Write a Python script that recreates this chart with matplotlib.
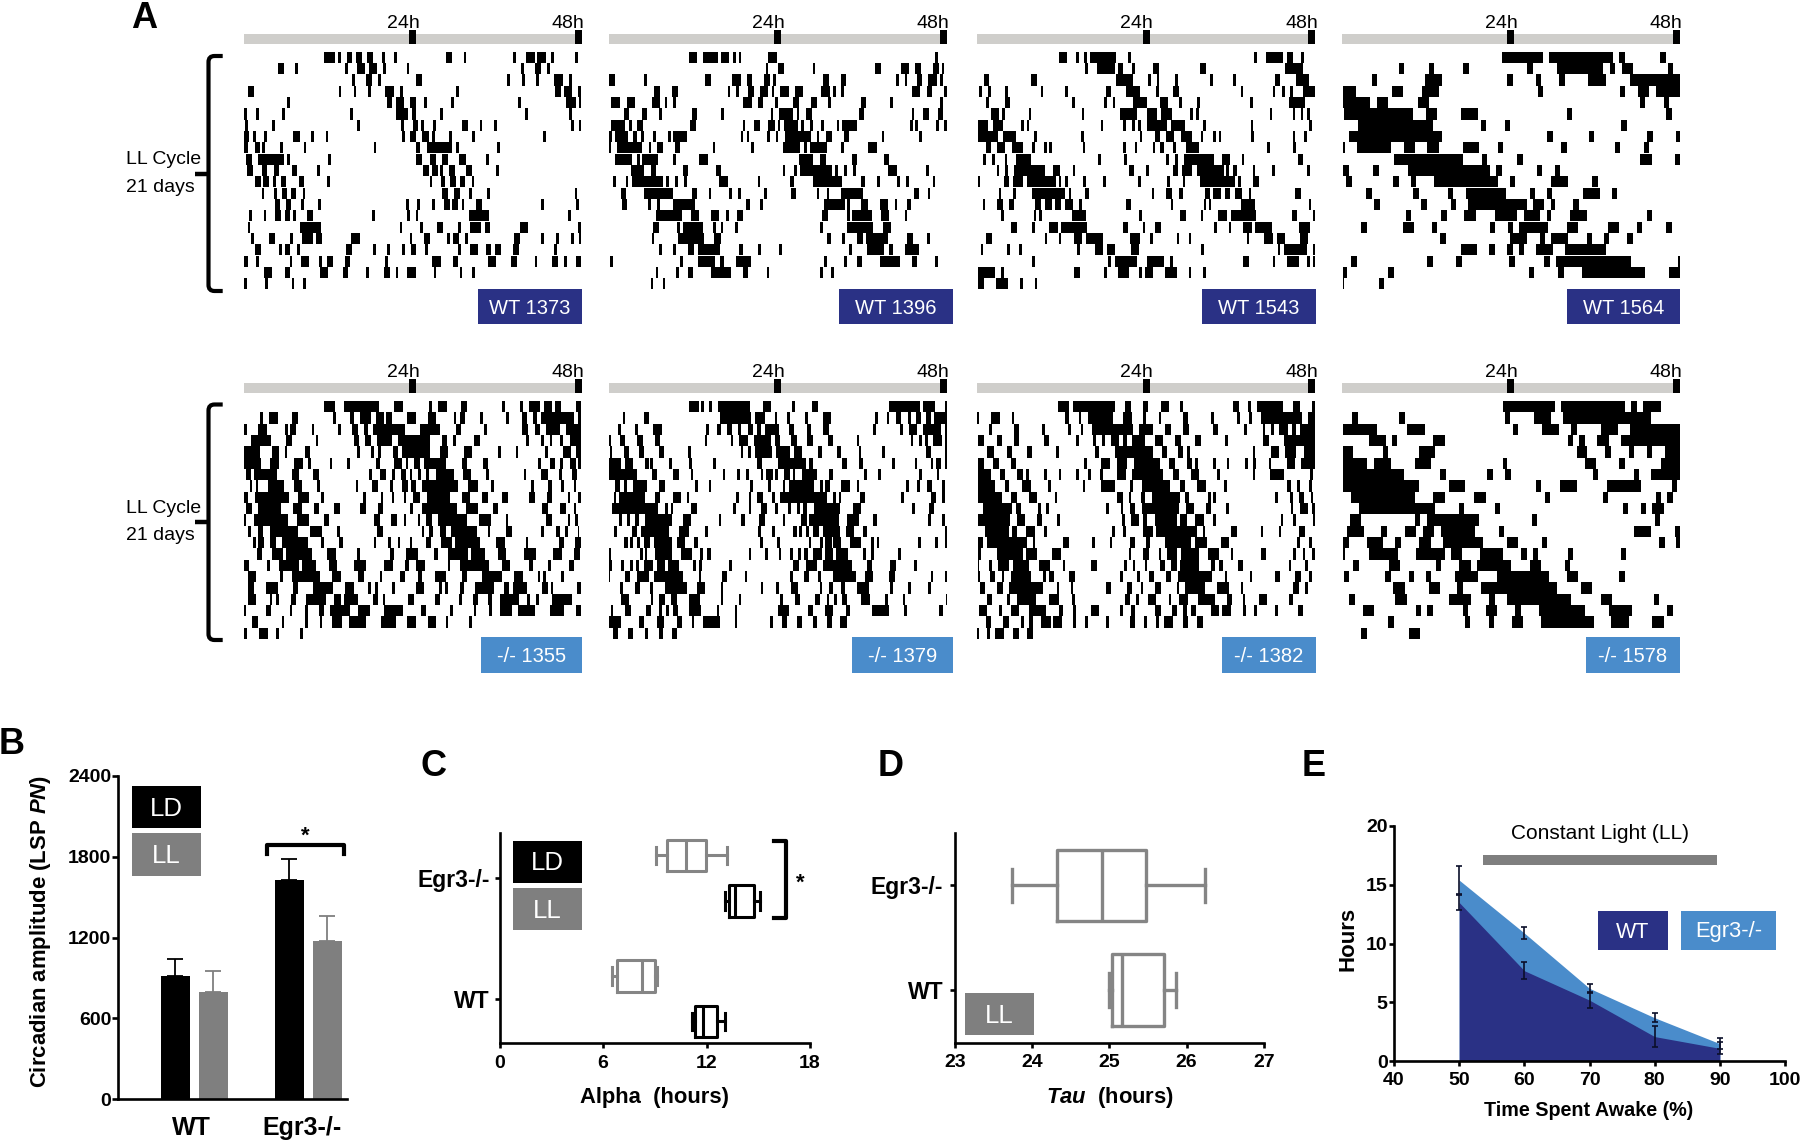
import matplotlib
matplotlib.use("Agg")
import matplotlib.pyplot as plt
from matplotlib.patches import PathPatch, Rectangle
from matplotlib.path import Path

plt.rcParams['font.family'] = ['Liberation Sans', 'DejaVu Sans']
plt.rcParams['mathtext.fontset'] = 'custom'
plt.rcParams['mathtext.bfit'] = 'Liberation Sans:italic:bold'
plt.rcParams['mathtext.bf'] = 'Liberation Sans:bold'

W, H = 1800, 1140
DARK_BLUE = '#2a3185'
LIGHT_BLUE = '#4a8ccb'
GREY = '#7f7f7f'

# Actograms: activity bouts per day row, flat start,end pairs
SCAN_PER_HOUR = 21.1

WT_1373 = [
    [612,645,655,663,682,698,708,726,742,760,787,795,822,831,980,998,1032,1040,1180,1190,1218,1245,1252,1278,1295,1303,1367,1376],
    [474,492,527,536,676,684,712,737,748,772,790,799,861,869,1205,1212,1247,1265,1283,1291],
    [697,706,740,757,775,785,890,908,1162,1171,1207,1215,1250,1258,1303,1330,1348,1357],
    [384,403,657,665,702,710,745,753,797,824,840,850,1008,1017,1306,1323,1333,1358,1376,1385],
    [502,512,802,818,828,853,870,888,914,922,994,1002,1196,1205,1338,1370,1378,1385],
    [373,382,409,418,488,497,691,699,830,865,876,888,962,970,1217,1225,1348,1357],
    [375,385,457,466,712,720,845,853,880,895,904,912,939,948,1026,1045,1080,1088,1124,1133,1353,1362,1378,1385],
    [373,388,400,408,433,441,521,540,575,583,618,626,846,855,872,890,908,928,936,945,988,997,1058,1066,1269,1278],
    [373,385,405,420,428,437,481,490,552,560,762,770,888,902,923,998,1008,1017,1132,1140],
    [380,397,415,493,503,512,625,634,888,906,932,950,968,986,1018,1038,1100,1108],
    [383,400,426,442,462,478,516,532,593,602,910,928,936,955,962,970,988,1006,1040,1058,1130,1139],
    [405,423,431,447,460,468,483,499,537,553,622,631,930,938,965,975,992,1010,1020,1036,1056,1062],
    [426,434,462,472,487,503,513,530,550,557,968,986,1004,1020,1048,1056,1102,1110,1366,1373],
    [466,482,500,514,545,552,596,604,860,868,893,902,938,946,972,992,998,1016,1026,1034,1068,1086,1264,1272,1370,1378],
    [389,397,432,440,467,485,495,510,520,530,563,580,757,766,862,870,888,896,1047,1108,1345,1353],
    [385,392,541,604,840,848,901,910,953,970,1015,1023,1052,1085,1095,1112,1200,1225,1376,1385],
    [395,404,447,466,510,519,546,580,590,606,695,720,870,878,914,930,983,992,1000,1018,1037,1044,1184,1202,1265,1273,1308,1317,1353,1362,1378,1385],
    [406,424,477,486,495,512,532,540,680,696,759,768,802,810,848,856,873,890,917,926,1014,1024,1050,1075,1100,1115,1125,1145,1180,1197,1302,1311],
    [373,384,410,418,510,518,543,568,597,606,622,640,675,690,797,806,938,965,1000,1016,1105,1130,1175,1193,1245,1253,1297,1314,1333,1341,1368,1385],
    [433,458,495,510,600,624,670,686,739,747,792,810,828,836,862,888,942,950,1020,1028,1058,1066],
    [373,382,437,445,516,524,550,558],
]
WT_1396 = [
    [266,292,310,355,363,388,400,408,416,424,505,530,1005,1013],
    [497,505,533,551,638,646,824,842,903,928,946,962,1000,1017,1025,1033],
    [27,46,133,142,316,334,396,422,441,457,492,510,520,527,670,686,722,739,888,896,914,922,950,967,985,1010,1020,1028],
    [163,180,216,233,383,391,408,418,445,461,479,505,515,523,541,567,585,610,664,690,700,708,724,732,935,960,980,996,1032,1040],
    [34,60,80,105,156,180,194,202,218,227,430,456,473,490,525,533,580,597,632,650,685,693,782,798,870,878,1020,1028],
    [72,88,125,142,178,186,276,292,364,372,512,520,538,580,590,597,618,635,778,792,935,943,968,986,1013,1030],
    [34,75,88,96,112,128,270,287,428,436,463,480,505,524,534,541,553,595,604,612,630,640,664,672,710,718,727,770,930,938,945,953,1008,1016,1032,1040],
    [28,36,46,85,98,112,124,132,160,168,204,212,220,262,422,430,440,448,502,510,528,535,556,632,650,658,678,695,732,748,845,853,958,966],
    [28,32,50,125,146,154,172,190,225,240,338,346,452,461,548,600,612,620,630,680,723,731,803,830],
    [44,95,110,120,125,175,220,228,298,324,597,640,660,678,755,772,852,868],
    [92,133,152,168,250,264,347,362,548,556,582,590,600,695,705,714,732,740,758,768,865,890,978,986],
    [40,49,77,85,95,190,198,206,226,233,252,260,358,384,473,481,570,583,640,726,782,795,832,840,892,900,918,926,998,1006],
    [62,78,133,220,275,291,326,334,388,396,414,422,492,500,573,588,650,658,680,688,724,790,942,958,983,991],
    [66,82,145,153,172,180,218,285,437,451,480,488,672,735,742,750,782,804,840,865,884,892,920,934],
    [168,245,272,297,333,358,378,386,412,430,665,683,740,750,755,816,844,868,914,922],
    [160,178,232,240,250,310,340,348,362,370,404,414,660,668,742,820,848,872],
    [155,163,235,312,342,364,680,692,727,735,772,788,798,865,920,938,982,990],
    [177,186,220,228,265,282,294,360,416,430,475,483,537,546,748,756,802,852,866,880,915,958],
    [30,40,240,248,294,345,360,372,408,452,672,680,733,742,770,786,840,900,935,952,1005,1014],
    [167,175,228,236,264,280,334,394,430,445,500,508,660,668,692,702],
    [152,160,188,196],
]
WT_1543 = [
    [296,320,348,356,373,382,390,468,505,514,882,890,918,970,982,998,1023,1032],
    [376,384,410,464,474,490,516,524,580,596,720,737,976,1028],
    [72,88,214,230,468,518,565,574,590,598,645,653,750,758,820,828,945,960,1008,1048],
    [56,66,84,92,136,144,242,250,315,323,438,454,498,540,588,596,640,656,842,850,938,946,966,974,990,998,1030,1065],
    [78,86,134,149,336,344,432,440,458,466,520,562,600,625,658,666,712,720,870,878,988,1036],
    [92,118,126,134,206,214,365,373,480,530,560,592,604,635,690,698,708,716,930,936,998,1006,1024,1030,1042,1050],
    [54,84,98,128,184,192,200,208,422,430,490,498,516,524,534,543,562,620,634,675,730,738,872,880,1046,1055],
    [54,113,128,167,222,230,364,372,540,547,585,600,618,642,664,695,722,730,760,768,776,784,874,882,998,1006,1033,1040],
    [78,92,112,135,156,190,216,224,252,260,268,276,368,376,490,498,524,532,578,586,600,612,640,648,678,716,922,930,1000,1008],
    [70,78,96,104,134,142,168,212,414,422,492,500,618,626,645,653,672,762,785,810,845,853,1013,1030,1065,1068],
    [110,118,136,144,162,256,278,300,338,346,506,522,558,566,638,653,665,697,710,792,798,806,820,830,878,885,936,944,1042,1050],
    [54,60,132,148,158,190,200,288,296,304,316,324,370,378,430,438,535,543,622,630,668,676,720,825,834,842,880,896],
    [116,124,160,168,216,316,326,334,374,388,576,582,618,635,656,668,734,750,760,784,796,810,824,846,868,874,1006,1022],
    [68,76,110,128,146,162,226,242,254,276,286,302,316,338,358,366,498,514,632,638,732,738,748,754,844,885,1046,1054],
    [124,132,222,228,238,245,336,378,538,546,660,678,722,728,774,800,812,888,996,1012,1058,1066],
    [152,170,216,224,268,294,302,380,490,505,548,556,584,602,762,770,806,814,850,875,884,936,1018,1050],
    [78,96,254,262,296,304,342,366,378,430,510,540,570,578,650,658,686,694,860,868,912,938,950,974,1020,1044],
    [62,70,142,150,178,186,352,360,406,430,442,466,512,536,724,732,954,960,972,1040,1060,1068],
    [216,224,445,452,464,530,560,612,630,638,850,868,938,946,982,1018,1042,1050,1060,1068],
    [54,104,122,132,342,360,432,440,474,508,536,546,554,578,616,652,686,694,728,738],
    [54,72,108,144,180,188,224,232],
]
WT_1564 = [
    [545,668,686,880,898,914,1020,1038],
    [236,252,326,342,428,446,622,640,712,850,870,886,905,940,1045,1060],
    [156,172,315,366,560,578,647,664,718,734,805,858,930,1080],
    [68,108,215,250,305,356,654,670,900,916,955,986,1008,1080],
    [68,150,170,204,295,328,960,976,1032,1048],
    [72,280,318,352,422,474,740,756,1038,1055],
    [115,340,482,498,554,570,904,920],
    [88,366,682,698,806,822,982,998,1068,1080],
    [68,75,110,213,252,284,322,356,428,478,534,548,724,742,884,900,972,986],
    [222,430,486,502,592,610,960,996,1066,1080],
    [68,88,160,176,265,510,528,545,650,666,704,720],
    [78,96,220,236,272,288,342,534,570,586,694,744,816,833],
    [138,155,280,296,384,400,438,558,630,646,682,696,788,840,876,892],
    [162,180,303,320,392,408,444,620,640,672,692,706,760,776],
    [258,274,364,380,432,468,524,590,612,660,680,694,750,800,980,996],
    [124,142,248,282,335,352,510,526,564,580,598,684,740,774,864,896,952,966,1038,1055],
    [360,378,570,620,660,674,694,744,800,816,852,868,922,938],
    [422,472,506,524,560,578,596,612,648,698,736,858],
    [92,110,322,338,408,426,566,584,672,690,708,934,1075,1080],
    [68,80,205,222,628,642,714,732,786,976,1048,1080],
    [68,71,176,192],
]
KO_1355 = [
    [612,646,673,778,822,850,928,937,955,982,1024,1042,1148,1157,1202,1210,1228,1262,1272,1296,1306,1324,1368,1385],
    [422,430,447,474,518,535,640,650,692,704,720,755,768,792,798,818,862,888,925,950,1002,1010,1020,1036,1082,1090,1160,1168,1206,1222,1240,1252,1265,1362,1376,1385],
    [373,382,416,442,496,506,510,530,576,584,655,663,698,716,733,745,760,856,900,960,1008,1024,1094,1102,1208,1224,1245,1262,1280,1322,1340,1385],
    [393,455,500,516,588,596,702,718,737,753,772,816,834,930,966,982,1000,1008,1062,1080,1220,1228,1265,1273,1290,1298,1322,1330,1352,1385],
    [373,420,458,478,495,503,556,572,712,720,755,764,775,784,820,835,846,932,962,986,1032,1056,1136,1144,1188,1196,1276,1284,1330,1354,1370,1385],
    [373,425,452,478,522,550,565,575,630,638,682,690,770,780,824,848,858,866,884,902,912,980,1026,1042,1090,1104,1256,1265,1290,1306,1322,1330,1350,1368,1376,1385],
    [378,394,404,472,518,538,580,598,748,756,782,800,818,826,844,860,870,878,895,905,920,928,950,1002,1030,1054,1100,1108,1212,1220,1265,1284,1318,1326,1358,1372],
    [390,398,408,416,445,494,522,548,592,602,708,716,758,776,812,820,848,864,874,890,908,1014,1044,1074,1114,1122,1234,1242,1286,1296,1324,1332,1362,1370],
    [373,384,405,508,535,568,605,613,730,738,783,791,816,824,852,860,880,902,922,990,1026,1052,1088,1104,1148,1166,1228,1246,1282,1298,1344,1352,1376,1385],
    [380,396,414,484,520,548,582,598,642,662,722,740,775,790,870,880,908,1012,1040,1074,1120,1136,1268,1284,1320,1338,1362,1370],
    [373,378,402,506,532,568,612,628,762,780,814,832,852,860,894,902,920,936,955,1042,1078,1114,1158,1166,1280,1296,1344,1352,1366,1374],
    [385,395,414,430,450,534,572,606,652,660,772,790,906,914,928,940,960,980,995,1072,1104,1110,1160,1178,1265,1274,1310,1322,1336,1346,1374,1378],
    [400,410,416,434,452,468,488,566,604,612,658,670,762,770,806,814,834,842,870,878,920,934,964,998,1006,1082,1128,1156,1218,1226,1318,1334,1366,1385],
    [412,428,456,490,500,578,622,648,712,720,810,824,860,894,944,954,984,1046,1054,1096,1134,1160,1212,1248,1300,1326,1364,1380],
    [373,388,442,450,478,538,548,590,628,652,704,740,792,820,856,868,890,916,984,992,1022,1108,1146,1170,1228,1240,1286,1294,1348,1364],
    [384,410,480,490,516,600,638,664,716,734,780,788,840,856,894,908,946,980,1026,1042,1088,1146,1184,1210,1254,1262,1270,1278,1325,1333],
    [386,404,438,474,520,536,580,640,676,702,746,754,766,774,818,826,888,914,958,968,976,984,1022,1032,1066,1124,1152,1168,1180,1222,1266,1284,1294,1300,1372,1385],
    [384,408,450,458,470,478,514,530,558,618,644,664,672,714,760,776,790,796,866,882,946,960,1018,1026,1060,1074,1106,1118,1140,1198,1222,1232,1250,1258,1298,1358],
    [373,378,438,454,510,518,556,566,598,612,632,690,716,752,792,850,904,920,992,1000,1062,1070,1108,1116,1142,1176,1194,1246,1290,1334,1370,1385],
    [396,414,486,494,556,564,600,608,636,668,688,738,784,828,862,888,926,950,978,986,1048,1056],
    [373,382,418,444,470,478,540,550],
]
KO_1379 = [
    [268,296,302,311,328,336,355,450,488,513,575,584,637,654,866,960,970,1006,1034,1040],
    [68,76,132,148,360,453,465,496,524,532,562,570,615,623,668,694,825,834,860,868,888,904,925,934,948,964,978,994,1002,1040],
    [53,62,106,114,160,186,318,326,352,362,380,396,415,423,445,460,470,484,495,538,568,582,622,634,670,686,820,828,900,908,928,952,970,1022,1034,1040],
    [27,33,60,74,112,128,165,180,314,322,392,400,418,444,462,512,525,540,572,590,622,638,684,700,770,778,932,940,958,966,976,984,1000,1026,1034,1040],
    [30,36,72,88,116,132,176,192,264,272,422,430,444,452,465,516,528,570,582,606,655,665,712,722,776,784,846,854,978,994,1034,1040],
    [27,64,75,100,136,146,150,160,207,215,268,276,340,348,470,486,534,618,628,640,726,742,778,788,876,884,944,952,992,1000,1008,1024,1034,1040],
    [27,112,156,172,220,236,272,280,368,376,412,420,438,446,482,490,498,520,526,534,552,570,578,586,606,650,686,698,792,800,834,842,958,966,1012,1018],
    [46,60,72,80,100,142,178,194,286,294,326,334,450,458,504,512,548,556,566,642,660,668,675,690,724,750,770,778,918,926,952,960,980,996,1026,1034],
    [42,48,58,135,165,180,218,243,260,268,408,416,446,454,472,488,516,524,541,680,700,708,716,722,780,796,904,912,992,1008,1026,1034],
    [36,174,196,204,214,220,274,290,400,408,446,454,482,500,526,534,564,572,592,600,610,622,642,720,758,782,936,944,986,1002],
    [58,66,82,90,104,118,136,215,250,274,356,364,424,434,478,496,548,556,604,620,628,716,742,776,820,830,984,992,1026,1034],
    [42,50,96,112,122,208,238,268,316,324,474,482,516,524,578,592,598,606,618,626,640,656,668,720,738,762,790,800,1034,1040],
    [72,84,90,100,112,120,132,150,162,215,232,256,282,294,480,488,532,540,626,634,660,668,676,696,700,724,750,784,814,822,830,838,954,962,1006,1014,1036,1040],
    [27,33,120,128,134,142,165,215,244,276,300,308,322,332,446,454,496,504,536,544,570,578,594,602,612,624,640,665,676,700,708,745,790,798,814,822,894,902],
    [27,35,62,72,90,98,108,116,132,158,170,194,204,236,280,288,298,305,388,396,580,596,618,650,668,756,800,816,870,888,942,950],
    [27,30,74,90,110,146,162,250,296,304,365,381,434,442,570,578,612,626,654,662,700,768,796,820,868,884,992,1000,1034,1040],
    [60,70,104,120,150,158,194,262,292,314,362,370,484,490,528,536,572,594,660,666,686,698,722,736,772,806,870,878,924,932,984,992],
    [64,88,152,160,178,194,214,230,266,300,362,370,416,422,540,548,584,600,646,660,680,688,702,712,726,740,784,810,856,864,908,916,1038,1042],
    [32,40,76,92,138,154,176,186,198,206,218,234,268,304,350,358,404,412,534,568,624,640,674,700,738,750,816,866,912,920,1018,1028],
    [27,62,116,132,170,192,230,246,275,283,308,360,404,412,510,518,546,562,590,606,640,650,680,696,720,740],
    [38,54,84,100,136,144,178,188,216,232],
]
KO_1382 = [
    [294,328,338,466,496,512,548,564,602,626,660,670,820,836,864,872,890,970,998,1020,1056,1064],
    [52,57,94,120,156,162,314,328,356,364,384,460,490,516,550,558,596,604,668,684,754,762,832,840,868,876,904,1026,1044,1064],
    [88,96,162,176,246,254,324,332,362,370,396,518,538,580,616,634,670,686,758,774,852,860,908,916,934,942,958,984,996,1008,1020,1064],
    [54,72,110,126,162,178,252,268,348,356,400,408,426,434,452,476,488,502,516,556,584,608,646,662,706,724,796,804,910,928,972,1064],
    [80,102,140,156,200,216,288,296,406,418,466,578,606,620,654,668,680,690,878,886,932,956,976,1008,1032,1064],
    [54,72,100,116,152,168,372,380,424,450,470,502,522,600,628,644,680,696,706,714,760,768,800,808,856,864,880,888,926,932,980,1004,1024,1064],
    [54,92,120,136,172,190,198,206,252,260,296,304,348,356,384,392,420,428,472,498,516,610,640,656,692,716,770,780,878,886,930,972,1050,1058],
    [54,104,134,148,186,212,264,272,368,376,422,466,510,518,546,630,660,676,712,738,792,800,980,994,1012,1020,1048,1056],
    [54,126,154,170,206,232,284,292,470,488,506,514,542,556,576,660,674,688,744,752,760,768,946,954,990,998,1016,1032,1052,1060],
    [70,156,168,184,234,242,258,266,438,446,482,490,510,526,546,658,678,702,738,754,798,806,992,1000,1020,1044,1056,1064],
    [54,150,170,196,230,246,292,300,486,494,514,538,550,562,584,652,660,680,706,732,760,768,962,970,1000,1008,1058,1064],
    [76,146,156,170,198,224,252,260,456,464,490,498,550,578,588,710,728,734,814,832,902,910,956,964,1016,1034],
    [54,70,80,202,218,226,308,326,396,404,450,456,510,526,558,570,616,694,706,740,782,808,1012,1020,1048,1056],
    [54,62,110,188,198,232,276,302,506,514,550,566,596,604,620,652,664,716,744,778,812,820,902,918,1000,1008,1028,1036,1056,1064],
    [54,58,88,96,114,148,158,208,238,270,308,316,394,412,492,500,518,526,554,562,600,614,634,650,660,718,752,764,776,790,834,850,986,992,1036,1044],
    [54,60,90,106,126,132,154,212,250,258,266,282,328,344,480,488,532,540,566,582,618,634,654,756,794,802,870,876,944,960,1006,1022,1048,1056],
    [60,76,112,128,148,250,290,298,332,340,438,454,500,516,542,550,586,602,650,658,676,734,770,806,842,850,1000,1016,1036,1044],
    [80,96,142,150,170,228,266,298,336,344,494,510,528,536,564,588,626,634,658,684,714,764,800,816,848,856,898,922,986,1000],
    [56,80,118,126,154,178,208,258,296,310,340,348,392,416,480,488,512,526,586,602,636,652,668,682,694,708,752,778,786,812,848,858,882,890,945,953,1014,1030],
    [78,94,130,146,182,192,208,218,244,272,280,306,340,348,376,384,438,446,510,524,552,560,588,598,612,640,668,684,712,728],
    [52,56,80,90,106,132,160,176,202,220],
]
KO_1578 = [
    [548,704,722,914,934,950,970,1022],
    [96,114,238,254,556,570,642,694,730,992],
    [70,172,262,314,578,594,666,718,754,770,844,894,930,1080],
    [146,198,216,232,340,374,744,760,778,796,830,866,902,1080],
    [70,100,188,204,296,346,770,802,856,872,926,942,980,996,1034,1080],
    [70,142,162,212,284,334,548,562,794,828,898,914,1022,1080],
    [70,252,360,378,502,518,554,572,818,834,942,958,994,1080],
    [70,298,386,436,648,664,720,770,860,964,1055,1070],
    [94,286,340,374,462,498,674,690,848,864,1008,1024,1042,1058],
    [118,346,418,432,524,540,908,924,962,978,996,1032],
    [90,124,284,300,320,476,636,652,1004,1020],
    [80,132,184,200,254,288,308,342,362,466,536,552,942,992,1064,1080],
    [70,86,140,190,226,244,298,332,368,490,560,594,666,682,1016,1034,1068,1080],
    [68,75,146,234,288,374,392,426,480,550,602,620,638,654,744,760,902,918],
    [100,118,206,240,348,362,418,452,470,574,630,662,734,750],
    [72,88,194,212,266,282,318,334,406,474,530,686,740,774,898,914],
    [220,254,326,360,412,428,484,710,782,816],
    [88,104,226,260,386,454,508,524,562,752,842,876,1002,1018],
    [130,162,288,304,322,338,428,444,498,532,586,602,656,796,868,936,1042,1060],
    [205,222,434,450,506,522,576,610,662,822,874,926,996,1032],
    [124,142,266,300],
]

TOP_ROWS = [WT_1373, WT_1396, WT_1543, WT_1564]
BOTTOM_ROWS = [KO_1355, KO_1379, KO_1382, KO_1578]
SCAN_ORIGIN = [373, 27, 52, 66]
TOP_NAMES = ['WT 1373', 'WT 1396', 'WT 1543', 'WT 1564']
BOTTOM_NAMES = ['-/- 1355', '-/- 1379', '-/- 1382', '-/- 1578']

# B: circadian amplitude
B_GROUPS = ['WT', 'Egr3-/-']
B_LD = [914, 1629]
B_LD_TOP = [1040, 1780]
B_LL = [798, 1174]
B_LL_TOP = [954, 1359]

# C: alpha, box stats as low, q1, median, q3, high
C_EGR_LL = [9.07, 9.69, 10.81, 11.95, 13.19]
C_EGR_LD = [13.08, 13.31, 13.66, 14.76, 15.10]
C_WT_LL = [6.52, 6.83, 8.26, 9.03, 9.11]
C_WT_LD = [11.18, 11.31, 11.78, 12.59, 13.06]

# D: tau
D_EGR = [23.74, 24.32, 24.91, 25.48, 26.24]
D_WT = [25.00, 25.03, 25.16, 25.71, 25.87]

# E: hours vs time spent awake
E_X = [50, 60, 70, 80, 90]
E_EGR = [15.4, 10.9, 6.2, 3.7, 1.5]
E_EGR_ERR = [1.2, 0.5, 0.4, 0.4, 0.45]
E_WT = [13.5, 7.7, 5.2, 2.1, 1.1]
E_WT_ERR = [0.6, 0.7, 0.7, 0.9, 0.5]


def add_ax(left, top, right, bottom):
    return fig.add_axes([left / W, 1 - bottom / H, (right - left) / W, (bottom - top) / H])


def box_label(x0, y0, x1, y1, color, text, size):
    over.add_patch(Rectangle((x0, y0), x1 - x0, y1 - y0, color=color, lw=0))
    over.text((x0 + x1) / 2, (y0 + y1) / 2 + 1.5, text, color='white', fontsize=size, ha='center', va='center')


def brace(x_left, x_mid, x_tip, y0, y1, y_mid):
    r = 6
    verts = [(x_left, y0), (x_mid + r, y0), (x_mid, y0), (x_mid, y0 + r), (x_mid, y1 - r), (x_mid, y1), (x_mid + r, y1), (x_left, y1)]
    codes = [Path.MOVETO, Path.LINETO, Path.CURVE3, Path.CURVE3, Path.LINETO, Path.CURVE3, Path.CURVE3, Path.LINETO]
    over.add_patch(PathPatch(Path(verts, codes), fc='none', ec='black', lw=3))
    over.plot([x_tip, x_mid], [y_mid, y_mid], color='black', lw=3.2, solid_capstyle='butt')


def actogram(left, row0_y, rows, origin):
    row_h = 11.33
    ax = add_ax(left, row0_y - 2.6 * row_h, left + 337.7, row0_y + 20.5 * row_h)
    for i, row in enumerate(rows):
        spans = []
        for start, end in zip(row[::2], row[1::2]):
            spans.append(((start - origin) / SCAN_PER_HOUR, (end - start) / SCAN_PER_HOUR))
        ax.broken_barh(spans, (i - 0.49, 0.98), color='black', lw=0)
    ax.broken_barh([(0, 48)], (-2.05, 0.88), color='#cfcecb', lw=0)
    ax.broken_barh([(23.5, 1), (47, 1)], (-2.42, 1.25), color='black', lw=0)
    ax.text(22.6, -3.0, '24h', fontsize=14, ha='center', va='center')
    ax.text(46.1, -3.0, '48h', fontsize=14, ha='center', va='center')
    ax.set_xlim(0, 48)
    ax.set_ylim(20.5, -2.6)
    ax.axis('off')


def style_axes(ax, tick_len=5, lw=1.9):
    ax.spines[['top', 'right']].set_visible(False)
    ax.spines[['left', 'bottom']].set_linewidth(lw)
    ax.tick_params(length=tick_len * 0.72, width=lw, labelsize=14)
    for lab in ax.get_xticklabels() + ax.get_yticklabels():
        lab.set_fontweight('bold')
    ax.patch.set_alpha(0)


def draw_box(ax, stat, pos, width, cap, color, lw):
    low, q1, med, q3, high = stat
    props = dict(color=color, linewidth=lw)
    ax.bxp([dict(whislo=low, q1=q1, med=med, q3=q3, whishi=high, fliers=[])], positions=[pos], widths=width,
           capwidths=cap, orientation='horizontal', showfliers=False, manage_ticks=False,
           boxprops=props, whiskerprops=props, capprops=props, medianprops=props)


fig = plt.figure(figsize=(W / 100, H / 100), dpi=100, facecolor='white')
over = fig.add_axes([0, 0, 1, 1], zorder=10)
over.set_xlim(0, W)
over.set_ylim(H, 0)
over.axis('off')

# A
lefts = [244, 609, 977.3, 1342]
for j in range(4):
    actogram(lefts[j], 57.3, TOP_ROWS[j], SCAN_ORIGIN[j])
    actogram(lefts[j], 406.7, BOTTOM_ROWS[j], SCAN_ORIGIN[j])

top_boxes = [477.7, 839.3, 1202.3, 1566.7]
top_right = [582, 953, 1316, 1680]
bot_boxes = [481, 852.3, 1222, 1586]
for j in range(4):
    box_label(top_boxes[j], 288.7, top_right[j], 324.3, DARK_BLUE, TOP_NAMES[j], 14.5)
    box_label(bot_boxes[j], 636.7, top_right[j], 672.7, LIGHT_BLUE, BOTTOM_NAMES[j], 14.5)

brace(222.7, 208.5, 195, 56, 291, 173.5)
brace(222.7, 208.5, 195, 404.5, 640, 522)
over.text(126.5, 160, 'LL Cycle', fontsize=14, ha='left', va='center')
over.text(126.5, 187.5, '21 days', fontsize=14, ha='left', va='center')
over.text(126.5, 508.7, 'LL Cycle', fontsize=14, ha='left', va='center')
over.text(126.5, 536, '21 days', fontsize=14, ha='left', va='center')

for letter, x, y in [('A', 131, 18), ('B', -1, 744), ('C', 420, 766), ('D', 878, 766), ('E', 1302, 766)]:
    over.text(x, y, letter, fontsize=26, fontweight='bold', ha='left', va='center')

# B
ax_b = add_ax(118, 775.7, 346.7, 1099.3)
x_b = [0, 1]
off, bw = 0.167, 0.255
ax_b.bar([x - off for x in x_b], B_LD, bw, color='black', zorder=2)
ax_b.bar([x + off for x in x_b], B_LL, bw, color=GREY, zorder=2)
ax_b.errorbar([x - off for x in x_b], B_LD, yerr=[[0, 0], [t - v for t, v in zip(B_LD_TOP, B_LD)]], fmt='none',
              ecolor='black', elinewidth=1.3, capsize=5.8, capthick=1.3, zorder=1)
ax_b.errorbar([x + off for x in x_b], B_LL, yerr=[[0, 0], [t - v for t, v in zip(B_LL_TOP, B_LL)]], fmt='none',
              ecolor=GREY, elinewidth=1.3, capsize=5.8, capthick=1.3, zorder=1)
ax_b.set_xlim(-0.67, 1.336)
ax_b.set_ylim(0, 2400)
ax_b.set_yticks([0, 600, 1200, 1800, 2400])
ax_b.set_xticks([-0.03, 0.94], B_GROUPS)
style_axes(ax_b, 6)
ax_b.tick_params(axis='y', pad=0.5)
ax_b.tick_params(axis='x', length=0, labelsize=18, pad=12)
ax_b.set_ylabel(r'Circadian amplitude (LSP $\mathbfit{PN}$)', fontsize=15.9, fontweight='bold', va='center', ha='center')
ax_b.yaxis.set_label_coords(41, 931, transform=over.transData)
box_label(131.7, 786, 200.7, 828.3, 'black', 'LD', 18.5)
box_label(131.7, 833.3, 200.7, 875.7, GREY, 'LL', 18.5)
over.plot([267, 267, 344, 344], [854, 844.5, 844.5, 854], color='black', lw=3, solid_joinstyle='round')
over.text(305, 836, '*', fontsize=16, fontweight='bold', ha='center', va='center')

# C
ax_c = add_ax(499.7, 832.7, 810, 1043.3)
draw_box(ax_c, C_EGR_LL, 1.188, 0.262, 0.146, '#858585', 2.2)
draw_box(ax_c, C_EGR_LD, 0.812, 0.262, 0.146, 'black', 2.2)
draw_box(ax_c, C_WT_LL, 0.188, 0.262, 0.146, '#858585', 2.2)
draw_box(ax_c, C_WT_LD, -0.188, 0.262, 0.146, 'black', 2.2)
ax_c.set_xlim(0, 18)
ax_c.set_ylim(-0.37, 1.376)
ax_c.set_xticks([0, 6, 12, 18])
ax_c.set_yticks([0, 1], ['WT', 'Egr3-/-'])
style_axes(ax_c)
ax_c.tick_params(axis='x', pad=4.5)
ax_c.tick_params(axis='y', labelsize=16.5, pad=3.5)
ax_c.set_xlabel('Alpha  (hours)', fontsize=15.8, fontweight='bold', va='center', ha='center')
ax_c.xaxis.set_label_coords(655, 1097.7, transform=over.transData)
box_label(513.3, 840.7, 582, 883, 'black', 'LD', 18.5)
box_label(513.3, 888, 582, 930, GREY, 'LL', 18.5)
over.plot([774, 785.5, 785.5, 774], [840.5, 840.5, 918, 918], color='black', lw=3, solid_joinstyle='round')
over.text(800, 883, '*', fontsize=16, fontweight='bold', ha='center', va='center')

# D
ax_d = add_ax(955, 832.7, 1263.7, 1042.7)
draw_box(ax_d, D_EGR, 1, 0.68, 0.32, '#858585', 2.4)
draw_box(ax_d, D_WT, 0, 0.68, 0.32, '#858585', 2.4)
ax_d.set_xlim(23, 27)
ax_d.set_ylim(-0.503, 1.503)
ax_d.set_xticks([23, 24, 25, 26, 27])
ax_d.set_yticks([0, 1], ['WT', 'Egr3-/-'])
style_axes(ax_d)
ax_d.tick_params(axis='x', pad=4.5)
ax_d.tick_params(axis='y', labelsize=16.5, pad=4.8)
ax_d.set_xlabel(r'$\mathbfit{Tau}$  (hours)', fontsize=15.8, fontweight='bold', va='center', ha='center')
ax_d.xaxis.set_label_coords(1110, 1097.7, transform=over.transData)
box_label(965, 993.3, 1033.7, 1035.3, GREY, 'LL', 18.5)

# E
ax_e = add_ax(1394, 826, 1785, 1061.3)
ax_e.fill_between(E_X, E_EGR, color=LIGHT_BLUE, lw=0, zorder=1)
ax_e.fill_between(E_X, E_WT, color=DARK_BLUE, lw=0, zorder=2)
ax_e.errorbar(E_X, E_EGR, yerr=E_EGR_ERR, fmt='none', ecolor='#0b0f2a', elinewidth=1.2, capsize=2.2, capthick=1.2, zorder=3)
ax_e.errorbar(E_X, E_WT, yerr=E_WT_ERR, fmt='none', ecolor='#0b0f2a', elinewidth=1.2, capsize=2.2, capthick=1.2, zorder=3)
ax_e.set_xlim(40, 100)
ax_e.set_ylim(0, 20)
ax_e.set_xticks([40, 50, 60, 70, 80, 90, 100])
ax_e.set_yticks([0, 5, 10, 15, 20])
style_axes(ax_e)
ax_e.tick_params(axis='x', pad=4)
ax_e.tick_params(axis='y', pad=1)
ax_e.set_xlabel('Time Spent Awake (%)', fontsize=14.2, fontweight='bold', va='center', ha='center')
ax_e.xaxis.set_label_coords(1589, 1111, transform=over.transData)
ax_e.set_ylabel('Hours', fontsize=16, fontweight='bold', va='center', ha='center')
ax_e.yaxis.set_label_coords(1348, 939, transform=over.transData)
over.add_patch(Rectangle((1483.3, 854.7), 234, 10.3, color=GREY, lw=0))
over.text(1600, 833.7, 'Constant Light (LL)', fontsize=15, ha='center', va='center')
box_label(1597.7, 911.3, 1668, 949.7, DARK_BLUE, 'WT', 15.5)
box_label(1681.3, 911.3, 1776, 949.7, LIGHT_BLUE, 'Egr3-/-', 15.8)

fig.savefig('out.png', dpi=100, facecolor='white')
